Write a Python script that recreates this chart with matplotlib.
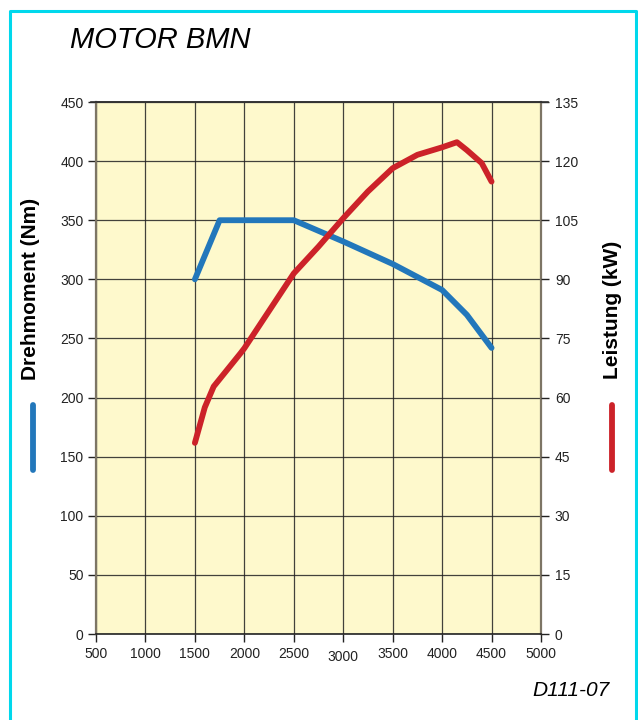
import matplotlib.pyplot as plt
from matplotlib.lines import Line2D

plt.rcParams['font.family'] = ['Liberation Sans', 'DejaVu Sans']

# Drehmoment (Nm) ueber Drehzahl (1/min)
rpm_torque = [1500, 1750, 2000, 2500, 3000, 3500, 4000, 4250, 4500]
torque = [300, 350, 350, 350, 332, 313, 291, 270, 242]

# Leistung (kW)
rpm_power = [1500, 1550, 1600, 1690, 1960, 2000, 2500, 2750, 3000, 3250, 3500,
             3750, 4000, 4150, 4250, 4400, 4500]
power = [48.5, 53, 57.5, 62.8, 71.2, 72.5, 91.5, 98.3, 105.5, 112.3, 118.2,
         121.6, 123.5, 124.8, 122.8, 119.5, 114.8]

x_ticks = [500, 1000, 1500, 2000, 2500, 3000, 3500, 4000, 4500, 5000]
y_ticks = [0, 50, 100, 150, 200, 250, 300, 350, 400, 450]
y2_ticks = [0, 15, 30, 45, 60, 75, 90, 105, 120, 135]

blue = '#2277bb'
red = '#cc2229'
grid_col = '#222222'

fig = plt.figure(figsize=(6.38, 7.2), dpi=100)
ax = fig.add_axes([96/638, 1-634/720, 445/638, 532/720])
ax.set_facecolor('#fef9cc')

ax.set_xlim(500, 5000)
ax.set_ylim(0, 450)
ax.set_xticks(x_ticks)
ax.set_yticks(y_ticks)
ax.set_xticklabels([str(v) for v in x_ticks])
ax.grid(True, color=grid_col, linewidth=0.9, alpha=0.85)
ax.set_axisbelow(True)

for s in ['left', 'right']:
    ax.spines[s].set_color('#7d7565')
    ax.spines[s].set_linewidth(1.6)
ax.spines['top'].set_color('#333333')
ax.spines['bottom'].set_color('#222222')
ax.spines['top'].set_linewidth(1.2)
ax.spines['bottom'].set_linewidth(1.2)

ax.tick_params(axis='both', labelsize=10, colors='#222222', length=6,
               width=1.0, direction='out', pad=3)
# the 3000 label sits a bit lower in the original
for lab in ax.get_xticklabels():
    if lab.get_text() == '3000':
        lab.set_y(-0.006)

ax.plot(rpm_torque, torque, color=blue, linewidth=4.2, solid_capstyle='round',
        solid_joinstyle='round', zorder=4)

ax2 = ax.twinx()
ax2.set_ylim(0, 135)
ax2.set_yticks(y2_ticks)
ax2.tick_params(axis='y', labelsize=10, colors='#222222', length=6,
                width=1.0, direction='out', pad=4)
for s in ax2.spines.values():
    s.set_visible(False)
ax2.plot(rpm_power, power, color=red, linewidth=4.2, solid_capstyle='round',
         solid_joinstyle='round', zorder=4)

# top line continues past the spines
fig.add_artist(Line2D([91/638, 548/638], [1-102/720, 1-102/720],
                      color='#333333', linewidth=1.2))

# axis labels and colour keys
fig.text(31/638, 1-289/720, 'Drehmoment (Nm)', rotation=90, fontsize=15,
         fontweight='bold', ha='center', va='center')
fig.text(612/638, 1-310/720, 'Leistung (kW)', rotation=90, fontsize=15,
         fontweight='bold', ha='center', va='center')
fig.add_artist(Line2D([33/638, 33/638], [1-405/720, 1-470/720], color=blue,
                      linewidth=4.2, solid_capstyle='round'))
fig.add_artist(Line2D([612/638, 612/638], [1-405/720, 1-470/720], color=red,
                      linewidth=4.2, solid_capstyle='round'))

fig.text(70/638, 1-40/720, 'MOTOR BMN', fontsize=21, style='italic',
         ha='left', va='center')
fig.text(610/638, 1-690/720, 'D111-07', fontsize=15, style='italic',
         ha='right', va='center')

# cyan frame (open at the bottom)
fig.add_artist(Line2D([10/638, 10/638, 636/638, 636/638],
                      [0, 1-11/720, 1-11/720, 0], color='#00d8ec',
                      linewidth=2.2))

fig.savefig('out.png', dpi=100)
